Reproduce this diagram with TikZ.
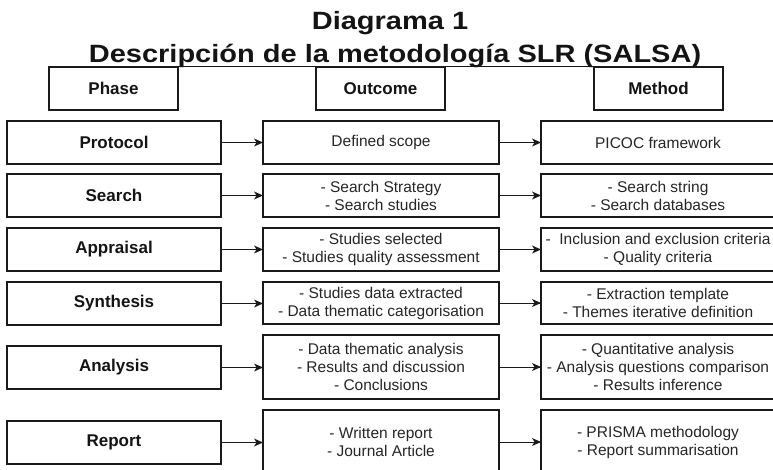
\documentclass[tikz,border=0pt]{standalone}
\usepackage{fontspec}
\usepackage{graphicx}
\setmainfont{Liberation Sans}
\usetikzlibrary{arrows.meta}
\definecolor{boxline}{HTML}{1A1A1A}
\definecolor{txt}{HTML}{262626}
\definecolor{btxt}{HTML}{141414}
\tikzset{
  box/.style={draw=boxline, line width=1.1pt, rectangle, anchor=north west, inner sep=0pt, outer sep=0pt, align=center},
  phasebox/.style={box, minimum width=214pt, minimum height=43pt, font=\fontsize{17}{20}\selectfont\bfseries, text=btxt},
  headbox/.style={box, minimum width=129pt, minimum height=43pt, font=\fontsize{17}{20}\selectfont\bfseries, text=btxt},
  outbox/.style={box, minimum width=236pt, font=\fontsize{15.5}{18}\selectfont, text=txt},
  methbox/.style={box, minimum width=234pt, font=\fontsize{15.5}{18}\selectfont, text=txt},
  arr/.style={draw=boxline, line width=1pt},
  tipfill/.style={fill=boxline},
  titletext/.style={inner sep=0pt, anchor=base, font=\fontsize{25}{30}\selectfont\bfseries, text=btxt}
}
\begin{document}
\begin{tikzpicture}[x=1pt,y=1pt]
\useasboundingbox (0,0) rectangle (773,-470);
\clip (0,0) rectangle (773,-470);
\fill[white] (0,0) rectangle (773,-470);
% title
\node[titletext] (t1) at (390,-30) {\scalebox{1.16}[1]{Diagrama 1}};
\node[titletext] (t2) at (395,-63) {\scalebox{1.16}[1]{Descripción de la metodología SLR (SALSA)}};
\draw[btxt, line width=1.4pt] ([yshift=-3.5pt]t2.base west) -- ([yshift=-3.5pt]t2.base east);
% headers
\node[headbox] (hp) at (49,-67) {Phase};
\node[headbox] (ho) at (316,-67) {Outcome};
\node[headbox] (hm) at (594,-67) {Method};
% row 1
\node[phasebox] (p1) at (7,-121) {Protocol};
\node[outbox, minimum height=43pt] (o1) at (263,-121) {Defined scope};
\node[methbox, minimum height=43pt] (m1) at (541,-121) {PICOC framework};
% row 2
\node[phasebox] (p2) at (7,-174) {Search};
\node[outbox, minimum height=43pt] (o2) at (263,-174) {- Search Strategy\\- Search studies};
\node[methbox, minimum height=43pt] (m2) at (541,-174) {- Search string\\- Search databases};
% row 3
\node[phasebox] (p3) at (7,-228) {Appraisal};
\node[outbox, minimum height=43pt] (o3) at (263,-228) {- Studies selected\\- Studies quality assessment};
\node[methbox, minimum height=43pt] (m3) at (541,-228) {-\ \ Inclusion and exclusion criteria\\- Quality criteria};
% row 4
\node[phasebox] (p4) at (7,-282) {Synthesis};
\node[outbox, minimum height=42pt] (o4) at (263,-282) {- Studies data extracted\\- Data thematic categorisation};
\node[methbox, minimum height=42pt] (m4) at (541,-282) {- Extraction template\\- Themes iterative definition};
% row 5
\node[phasebox] (p5) at (7,-346) {Analysis};
\node[outbox, minimum height=64pt] (o5) at (263,-335) {- Data thematic analysis\\- Results and discussion\\- Conclusions};
\node[methbox, minimum height=64pt] (m5) at (541,-335) {- Quantitative analysis\\- Analysis questions comparison\\- Results inference};
% row 6
\node[phasebox] (p6) at (7,-421) {Report};
\node[outbox, minimum height=64pt] (o6) at (263,-410) {- Written report\\- Journal Article};
\node[methbox, minimum height=64pt] (m6) at (541,-410) {- PRISMA methodology\\- Report summarisation};
% connectors
\foreach \i in {1,2,3,4,5,6}{
  \draw[arr] (p\i.east) -- (p\i.east -| o\i.west);
  \fill[tipfill] (p\i.east -| o\i.west) -- ++(-9,4) -- ++(2.5,-4) -- ++(-2.5,-4) -- cycle;
  \draw[arr] (o\i.east) -- (o\i.east -| m\i.west);
  \fill[tipfill] (o\i.east -| m\i.west) -- ++(-9,4) -- ++(2.5,-4) -- ++(-2.5,-4) -- cycle;
}
\end{tikzpicture}
\end{document}
